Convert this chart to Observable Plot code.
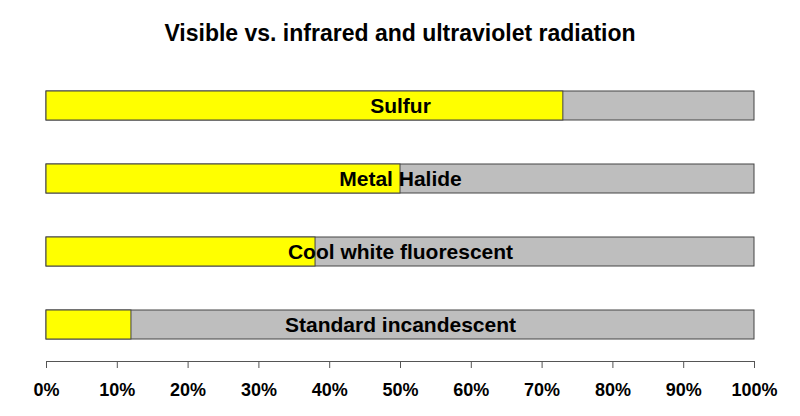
<!DOCTYPE html>
<html>
<head>
<meta charset="utf-8">
<script src="https://cdn.jsdelivr.net/npm/d3@7"></script>
<script src="https://cdn.jsdelivr.net/npm/@observablehq/plot@0.6"></script>
<style>
  body { margin: 0; background: #fff; }
  #title { box-sizing: border-box; width: 800px; height: 60px; padding-top: 19px; text-align: center;
    font-family: "Liberation Sans", Arial, sans-serif; font-weight: bold; font-size: 23px; line-height: 28px; color: #000; }
  #chart svg { display: block; }
</style>
</head>
<body>
<div id="title">Visible vs. infrared and ultraviolet radiation</div>
<div id="chart"></div>
<script>
const categories = ["Sulfur", "Metal Halide", "Cool white fluorescent", "Standard incandescent"];
const visible = [73, 50, 38, 12];
const xTicks = [0, 10, 20, 30, 40, 50, 60, 70, 80, 90, 100];

const rows = categories.map((c, i) => ({ name: c, visible: visible[i] }));

const chart = Plot.plot({
  width: 800,
  height: 356,
  marginLeft: 46,
  marginRight: 46,
  marginTop: 0,
  marginBottom: 55,
  style: { fontFamily: "'Liberation Sans', Arial, sans-serif", background: "#fff", overflow: "visible" },
  x: { domain: [0, 100], ticks: xTicks, tickFormat: d => d + "%" },
  y: { domain: categories, range: [30.5, 278.5], paddingInner: 0.603, paddingOuter: 0, axis: null },
  marks: [
    Plot.barX(rows, { y: "name", x1: 0, x2: 100, fill: "#BEBEBE", stroke: "#444", strokeWidth: 1 }),
    Plot.barX(rows, { y: "name", x1: 0, x2: "visible", fill: "#FFFF00", stroke: "#444", strokeWidth: 1 }),
    Plot.text(rows, { y: "name", x: 50, text: "name", fontSize: 21, fontWeight: "bold", fill: "#000" }),
    Plot.frame({ anchor: "bottom", stroke: "#555" }),
    Plot.axisX({ ticks: xTicks, tickFormat: d => d + "%", tickSize: 7, tickPadding: 15, fontSize: 18, fontWeight: "bold", stroke: "#555", color: "#000", label: null })
  ]
});
document.getElementById("chart").appendChild(chart);
</script>
</body>
</html>
